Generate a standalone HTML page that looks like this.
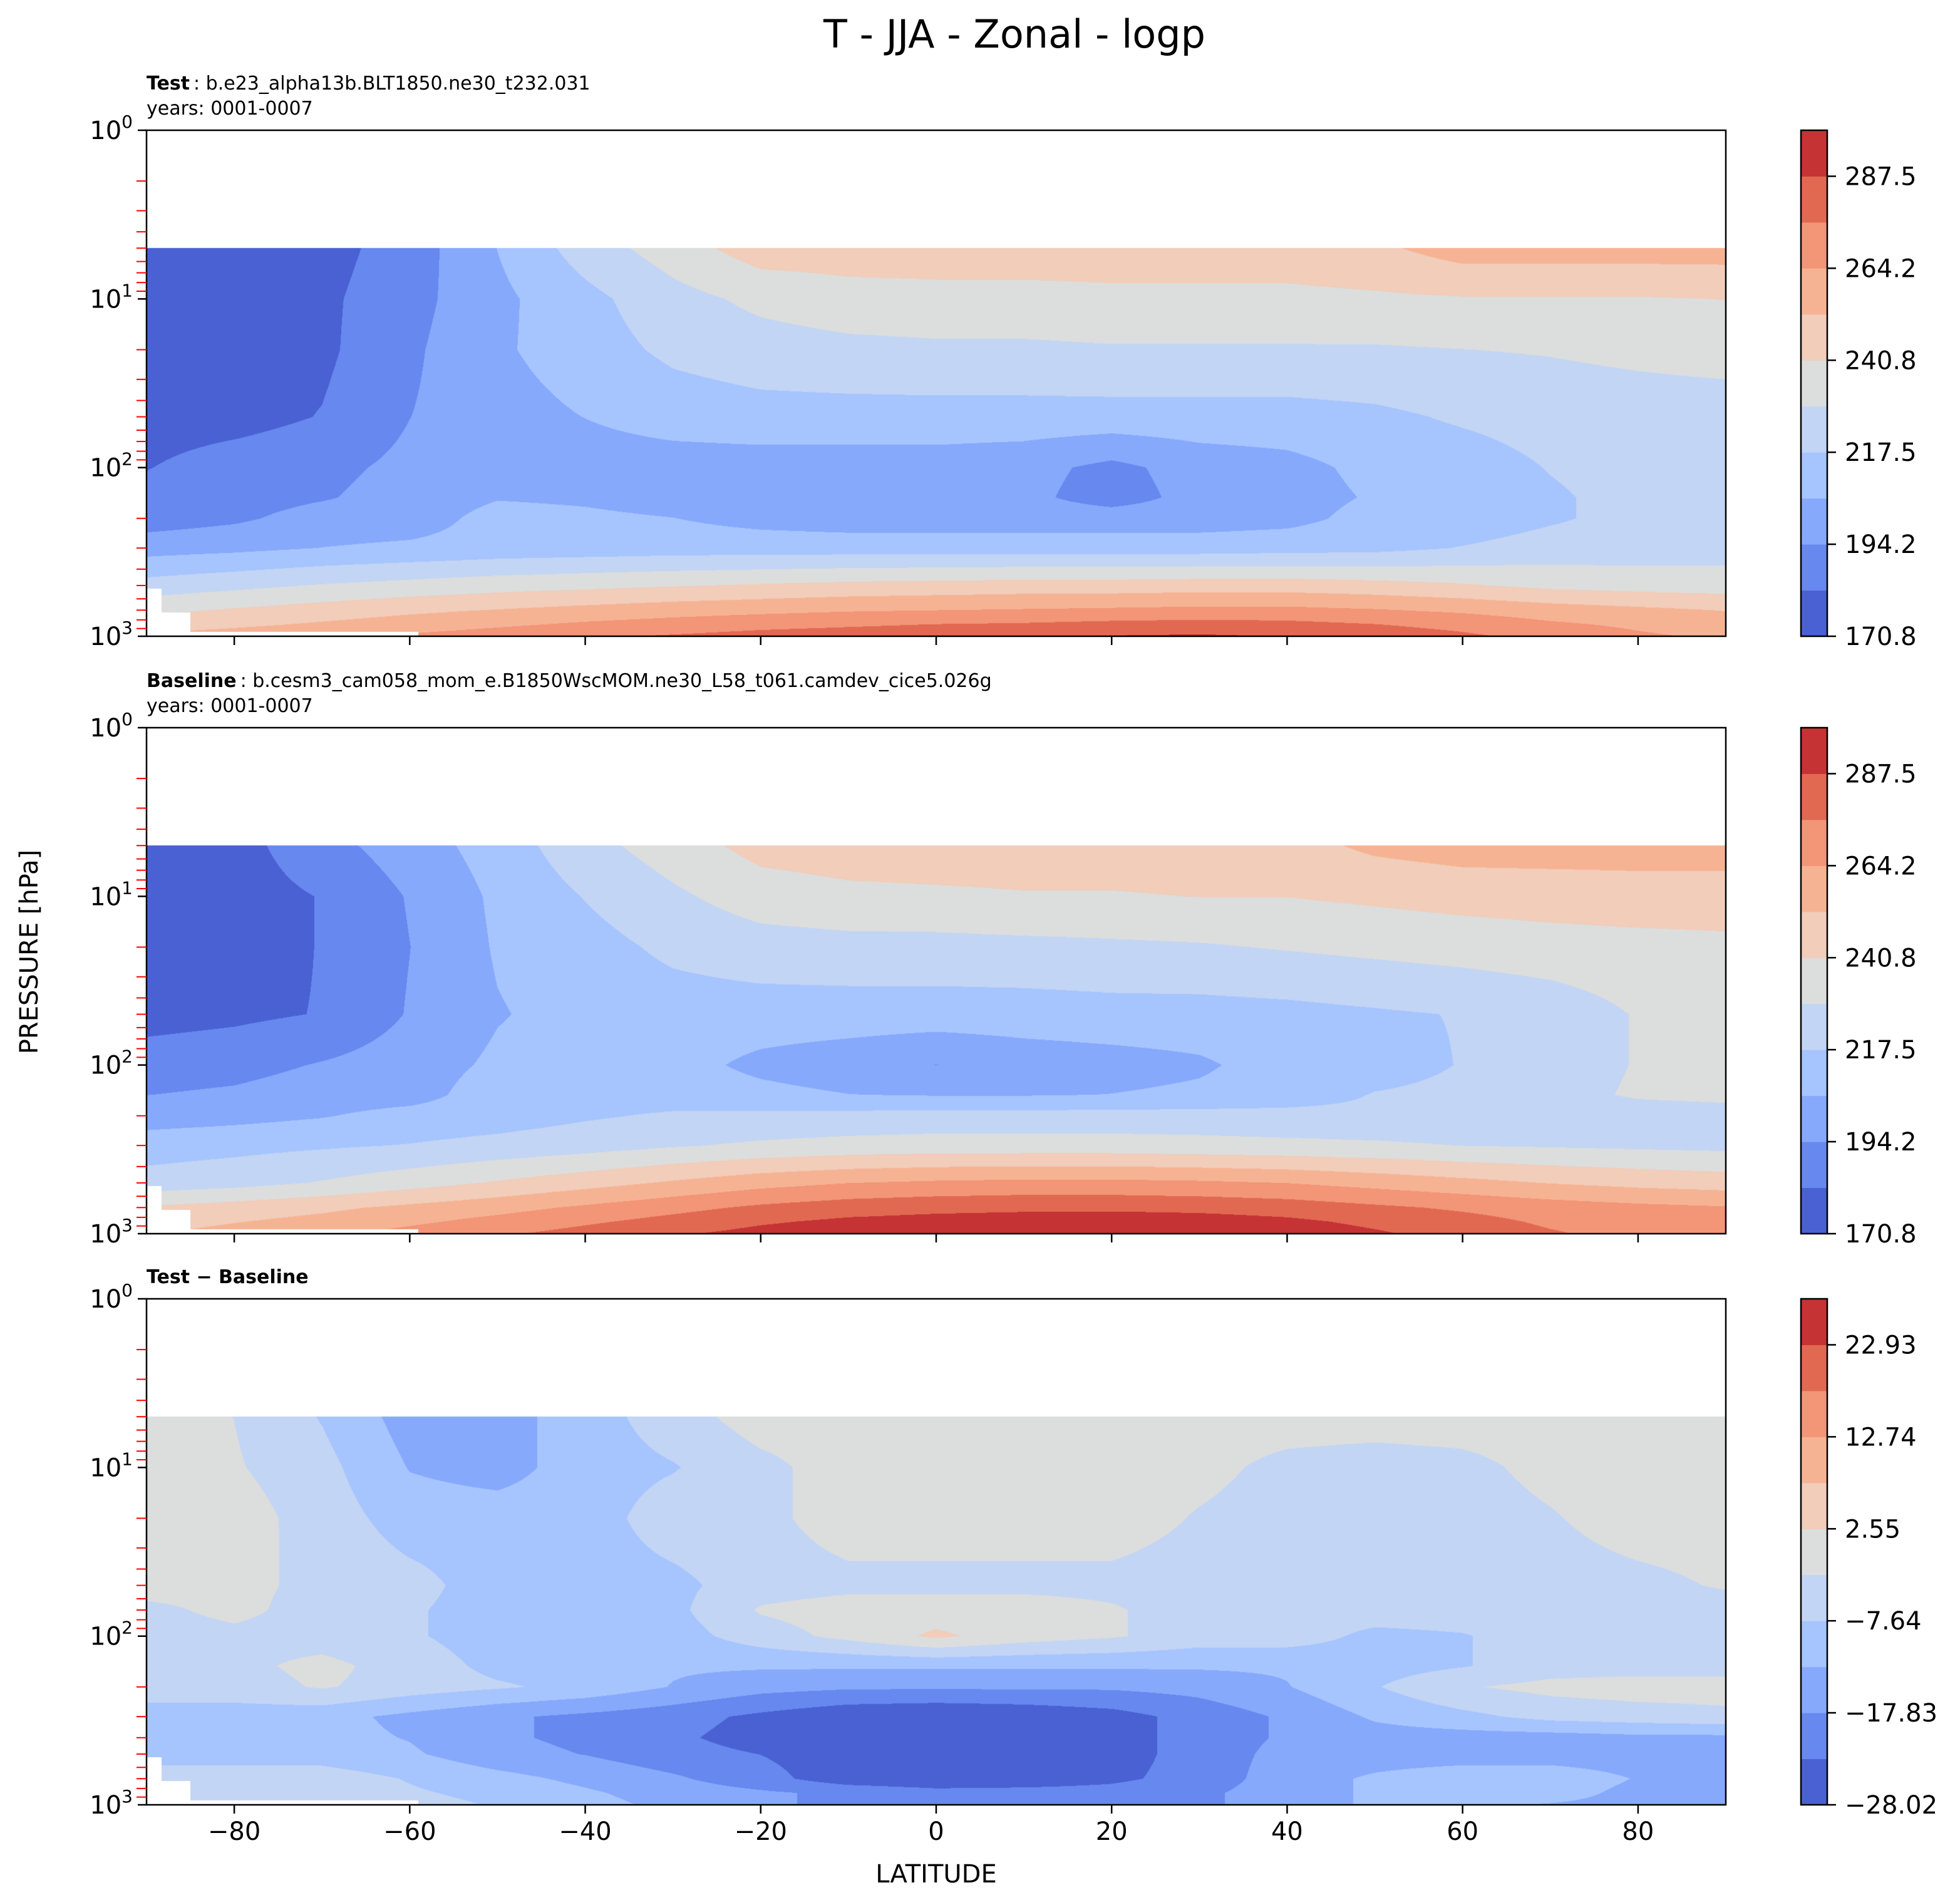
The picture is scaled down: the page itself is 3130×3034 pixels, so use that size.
<!DOCTYPE html>
<html><head><meta charset="utf-8">
<style>
html,body{margin:0;padding:0;background:#fff;}
body{width:3130px;height:3034px;position:relative;overflow:hidden;font-family:"DejaVu Sans","Liberation Sans",sans-serif;}
canvas{position:absolute;}
svg{position:absolute;left:0;top:0;}
</style></head>
<body>
<canvas id="c1" width="2522" height="808" style="left:234px;top:208px"></canvas>
<canvas id="c2" width="2522" height="808" style="left:234px;top:1162px"></canvas>
<canvas id="c3" width="2522" height="808" style="left:234px;top:2074px"></canvas>
<svg id="ov" width="3130" height="3034">
  <text x="1620" y="76" font-size="62" text-anchor="middle">T - JJA - Zonal - logp</text>
  <text x="234" y="143" font-size="30"><tspan font-weight="bold">Test</tspan>&#8201;: b.e23_alpha13b.BLT1850.ne30_t232.031</text>
  <text x="234" y="183" font-size="30">years: 0001-0007</text>
  <text x="234" y="1097" font-size="30"><tspan font-weight="bold">Baseline</tspan>&#8201;: b.cesm3_cam058_mom_e.B1850WscMOM.ne30_L58_t061.camdev_cice5.026g</text>
  <text x="234" y="1137" font-size="30">years: 0001-0007</text>
  <text x="234" y="2049" font-size="30" font-weight="bold">Test − Baseline</text>
  <text x="1495" y="3006" font-size="40" text-anchor="middle">LATITUDE</text>
  <text x="60" y="1520" font-size="40" text-anchor="middle" transform="rotate(-90 60 1520)">PRESSURE [hPa]</text>
</svg>
<script>
// ---- data ----
const lats = [-90,-80,-70,-60,-50,-40,-30,-20,-10,0,10,20,30,40,50,60,70,80,90];
const tPlev = [5,10,20,50,100,150,200,300,500,700,850,1000];
const testT = [
 [177,177,178,188,206,223,235,247,247,247,247,247,247,247,250,258,258,258,258],
 [177,177,180,190,203,214,225,232,236,237,237,238,238,238,239,240,240,240,241],
 [177,177,180,192,204,212,220,224,226,227,227,228,228,228,228,229,230,232,234],
 [177,178,183,194,201,206,211,213,213,213,213,213,213,213,215,219,222,223,223],
 [182,188,191,197,200,200,200,200,200,200,198,191,199,202,209,212,218,222,223],
 [186,189,193,199,205,204,201,200,200,200,197,189,198,201,207,211,216,221,222],
 [188,192,199,200,210,208,206,202,200,200,200,200,200,202,210,211,216,221,221],
 [201,203,206,208,210,211,212,212,212,212,212,212,212,213,214,218,222,223,224],
 [222,226,230,233,236,238,240,242,244,245,246,246,247,247,245,242,238,236,235],
 [238,242,246,250,253,256,259,261,263,264,265,266,267,267,265,262,258,255,252],
 [246,250,254,258,262,266,269,272,274,276,277,279,280,279,276,272,266,262,258],
 [255,258,262,266,270,274,277,280,282,284,286,288,289,287,283,278,272,266,262]
];
const baseT = [
 [177,178,190,200,211,225,235,245,247,247,247,247,247,248,255,258,258,258,258],
 [177,177,183,195,208,218,227,235,238,239,240,240,241,241,243,245,246,247,247],
 [177,177,183,194,207,213,220,224,225,225,226,227,228,230,232,234,236,237,238],
 [178,180,183,195,205,210,212,212,212,212,212,213,213,214,216,218,222,230,236],
 [188,190,195,200,208,212,210,203,199,194,199,201,204,211,213,218,222,230,235],
 [194,196,200,201,212,213,212,209,206,205,205,206,208,212,218,220,224,231,233],
 [200,202,205,210,212,216,219,220,221,222,222,222,222,221,220,220,220,222,223],
 [212,214,216,218,221,224,228,231,233,234,234,234,233,232,231,229,228,227,226],
 [222,225,230,236,242,248,254,260,264,266,267,267,266,264,260,256,252,249,247],
 [242,246,250,255,260,266,272,278,282,284,285,285,284,282,278,274,270,267,265],
 [248,252,256,262,268,274,280,286,290,292,293,294,293,290,285,280,274,270,268],
 [252,256,262,268,274,280,286,291,294,296,297,298,297,294,289,283,277,272,270]
];
const dPlev = [5,10,20,50,70,100,150,200,300,400,500,700,850,1000];
const diffT = [
 [0,-2.6,-8,-15,-15,-10,-5,0,0,0,0,0,0,0,0,0,0,0,0],
 [0,-2,-6,-13,-15,-10,-8,-4,0,0,0,0,-1,-4,-5,-4,-1,0,0],
 [0,0,-5,-10,-10,-10,-5,-4,0,0,0,0,-3,-5,-5,-5,-3,0,0],
 [0,-1,-4,-6,-10,-10,-9,-5,-4,-4,-4,-4,-5,-5,-5,-5,-5,-4,-2],
 [-4,-1,-5,-7,-10,-10,-9,-2,0,0,0,-2,-5,-5,-5,-5,-5,-5,-5],
 [-5,-4,-5,-7,-10,-10,-10,-5,-1,3.5,0,-2,-5,-5,-9,-8,-5,-5,-5],
 [-5,-4,-1,-5,-9,-10,-12,-12,-12,-12,-12,-12,-12,-12,-10,-8,-5,-5,-5],
 [-5,-5,-2,-5,-7,-9,-13,-16,-17,-17,-17,-17,-16,-13,-8,-3,-1,0,0],
 [-10,-10,-11,-14,-17,-19,-21,-24,-27,-28,-27,-25,-21,-17,-12,-9,-6,-5,-4],
 [-10,-10,-11,-13,-17,-19,-22,-25,-27,-28,-27,-25,-21,-17,-15,-15,-15,-14,-14],
 [-10,-10,-10,-12,-16,-18,-21,-23,-26,-27,-26,-25,-21,-16,-15,-15,-15,-15,-15],
 [-5,-5,-5,-8,-11,-14,-17,-21,-26,-27,-26,-24,-21,-15,-12,-10,-10,-13,-15],
 [-5,-5,-5,-7,-9,-12,-15,-17,-19,-21,-21,-21,-19,-15,-12,-10,-11,-14,-15],
 [-4,-4,-4,-6,-8,-11,-14,-17,-19,-20,-20,-20,-19,-15,-12,-12,-13,-14,-15]
];
const maskLatEdges = [-88.3,-85,-59];
const maskPres = [520,720,945];
const tLevelMin = 170.8, tLevelStep = 11.667;
const dLevelMin = -28.02, dLevelStep = 5.095;
const tTickLabels = ["170.8","194.2","217.5","240.8","264.2","287.5"];
const dTickLabels = ["−28.02","−17.83","−7.64","2.55","12.74","22.93"];
const xTicks = [-80,-60,-40,-20,0,20,40,60,80];
const yMajor = [0,1,2,3];
const colors = ["#4961d2","#6788ee","#86a9fc","#a6c4fe","#c3d5f4","#dcdddd","#f1cdba","#f6b394","#f39577","#e16951","#c53334"];

// ---- geometry ----
const PX = 234, PW = 2522, PH = 808;
const panelTops = [208,1162,2074];
const CBX = 2876, CBW = 42;
function xOfLat(l){ return PX + (l+90)/180*PW; }
function yOfLogP(top, lp){ return top + lp/3*PH; }

function hexRgb(h){ return [parseInt(h.substr(1,2),16),parseInt(h.substr(3,2),16),parseInt(h.substr(5,2),16)]; }
const rgb = colors.map(hexRgb);

function surfP(lat){
  for(let k=0;k<maskLatEdges.length;k++){ if(lat<maskLatEdges[k]) return maskPres[k]; }
  return 2000;
}

function render(id, plev, rows, vmin, step){
  const cv = document.getElementById(id);
  const ctx = cv.getContext('2d');
  const img = ctx.createImageData(PW, PH);
  const d = img.data;
  const lp = plev.map(p=>Math.log10(p));
  const n = lats.length;
  for(let j=0;j<PH;j++){
    const logp = (j+0.5)/PH*3;
    const p = Math.pow(10,logp);
    let k=-1;
    if(logp>=lp[0]){
      k=0; while(k<lp.length-2 && logp>lp[k+1]) k++;
    }
    const t = k>=0 ? Math.min(1,(logp-lp[k])/(lp[k+1]-lp[k])) : 0;
    for(let i=0;i<PW;i++){
      const o=(j*PW+i)*4;
      const lat=-90+(i+0.5)/PW*180;
      if(k<0 || p>surfP(lat)){ d[o]=255;d[o+1]=255;d[o+2]=255;d[o+3]=255; continue; }
      let m=Math.floor((lat+90)/10); if(m>n-2) m=n-2; if(m<0) m=0;
      const u=(lat-lats[m])/(lats[m+1]-lats[m]);
      const a=rows[k][m]*(1-u)+rows[k][m+1]*u;
      const b=rows[k+1][m]*(1-u)+rows[k+1][m+1]*u;
      const v=a*(1-t)+b*t;
      let band=Math.floor((v-vmin)/step); if(band<0) band=0; if(band>10) band=10;
      const c=rgb[band];
      d[o]=c[0];d[o+1]=c[1];d[o+2]=c[2];d[o+3]=255;
    }
  }
  ctx.putImageData(img,0,0);
}
render('c1', tPlev, testT, tLevelMin, tLevelStep);
render('c2', tPlev, baseT, tLevelMin, tLevelStep);
render('c3', dPlev, diffT, dLevelMin, dLevelStep);

// ---- axes ----
const NS="http://www.w3.org/2000/svg";
const ov=document.getElementById('ov');
function mk(tag, attrs){ const e=document.createElementNS(NS,tag); for(const k in attrs) e.setAttribute(k,attrs[k]); ov.appendChild(e); return e; }

panelTops.forEach((top, pi)=>{
  const fr = mk('rect',{x:PX,y:top,width:PW,height:PH,fill:'none',stroke:'#000','stroke-width':2.5});
  
  
  yMajor.forEach(e=>{
    const y=yOfLogP(top,e);
    const tk=mk('line',{x1:PX-14,x2:PX,y1:y,y2:y,stroke:'#000','stroke-width':2.5});
    
    
    const tx=mk('text',{x:PX-22,y:y+14,'font-size':40,'text-anchor':'end'});
    
    
    tx.innerHTML='10<tspan font-size="28" dy="-18">'+e+'</tspan>';
  });
  for(let dec=0;dec<3;dec++){
    for(let m=2;m<=9;m++){
      const y=yOfLogP(top,dec+Math.log10(m));
      const mt=mk('line',{x1:PX-16,x2:PX,y1:y,y2:y,stroke:'#ff0000','stroke-width':2});
      
      
    }
  }
  xTicks.forEach(l=>{
    const x=xOfLat(l);
    const xt=mk('line',{x1:x,x2:x,y1:top+PH,y2:top+PH+14,stroke:'#000','stroke-width':2.5});
    
    
    if(pi===2){
      const lb=mk('text',{x:x,y:top+PH+56,'font-size':40,'text-anchor':'middle'});
      
      
      lb.textContent = l<0 ? '−'+Math.abs(l) : String(l);
    }
  });
  const bh = PH/11;
  colors.forEach((c,bi)=>{
    const r=mk('rect',{x:CBX,y:top+PH-(bi+1)*bh,width:CBW,height:bh+0.5,fill:c});
    
    
  });
  const cf=mk('rect',{x:CBX,y:top,width:CBW,height:PH,fill:'none',stroke:'#000','stroke-width':2.5});
  
  
  const labels = pi===2 ? dTickLabels : tTickLabels;
  labels.forEach((s,ti)=>{
    const y=top+PH-ti*2*bh;
    const ct=mk('line',{x1:CBX+CBW,x2:CBX+CBW+14,y1:y,y2:y,stroke:'#000','stroke-width':2.5});
    
    
    const cl=mk('text',{x:CBX+CBW+28,y:y+14,'font-size':40});
    
    
    cl.textContent=s;
  });
});
</script>
</body></html>
